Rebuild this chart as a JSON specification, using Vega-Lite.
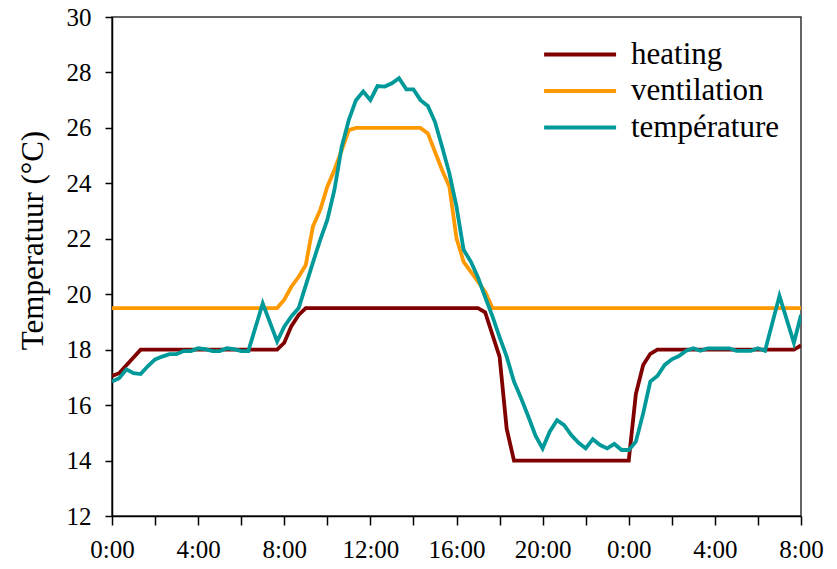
{
  "$schema": "https://vega.github.io/schema/vega-lite/v6.json",
  "width": 689,
  "height": 499,
  "autosize": {"type": "none"},
  "padding": {"left": 112, "top": 17, "right": 36, "bottom": 53},
  "background": "white",
  "config": {
    "font": "Liberation Serif",
    "view": {"stroke": "#333333", "strokeWidth": 1.5},
    "axis": {
      "grid": false,
      "domainColor": "#000000",
      "domainWidth": 1.5,
      "tickColor": "#000000",
      "tickWidth": 1.5,
      "labelColor": "#000000",
      "titleColor": "#000000",
      "labelFont": "Liberation Serif",
      "titleFont": "Liberation Serif",
      "labelFontSize": 25,
      "titleFontWeight": "normal"
    },
    "legend": {
      "labelFont": "Liberation Serif",
      "labelFontSize": 31,
      "labelColor": "#000000"
    }
  },
  "datasets": {
    "heating": [
      {"t": 0, "v": 17.05}, {"t": 0.33, "v": 17.15}, {"t": 1.33, "v": 18.0},
      {"t": 7.67, "v": 18.0}, {"t": 8.0, "v": 18.25}, {"t": 8.33, "v": 18.85},
      {"t": 8.67, "v": 19.25}, {"t": 9.0, "v": 19.5}, {"t": 17.0, "v": 19.5},
      {"t": 17.33, "v": 19.35}, {"t": 18.0, "v": 17.75}, {"t": 18.33, "v": 15.15},
      {"t": 18.67, "v": 14.0}, {"t": 24.0, "v": 14.0}, {"t": 24.33, "v": 16.4},
      {"t": 24.67, "v": 17.45}, {"t": 25.0, "v": 17.85}, {"t": 25.33, "v": 18.0},
      {"t": 31.67, "v": 18.0}, {"t": 32.0, "v": 18.15}
    ],
    "ventilation": [
      {"t": 0, "v": 19.5}, {"t": 7.67, "v": 19.5}, {"t": 8.0, "v": 19.8},
      {"t": 8.33, "v": 20.27}, {"t": 8.67, "v": 20.63}, {"t": 9.0, "v": 21.05},
      {"t": 9.33, "v": 22.44}, {"t": 9.67, "v": 23.04}, {"t": 10.0, "v": 23.88},
      {"t": 10.33, "v": 24.48}, {"t": 10.67, "v": 25.2}, {"t": 11.0, "v": 25.92},
      {"t": 11.33, "v": 26.0}, {"t": 14.33, "v": 26.0}, {"t": 14.67, "v": 25.8},
      {"t": 15.0, "v": 25.14}, {"t": 15.33, "v": 24.48}, {"t": 15.67, "v": 23.88},
      {"t": 16.0, "v": 22.02}, {"t": 16.33, "v": 21.17}, {"t": 16.67, "v": 20.81},
      {"t": 17.0, "v": 20.45}, {"t": 17.33, "v": 20.09}, {"t": 17.67, "v": 19.5},
      {"t": 32.0, "v": 19.5}
    ],
    "temperature": [
      {"t": 0, "v": 16.85}, {"t": 0.33, "v": 16.97}, {"t": 0.67, "v": 17.29},
      {"t": 1.0, "v": 17.15}, {"t": 1.33, "v": 17.12}, {"t": 1.67, "v": 17.41},
      {"t": 2.0, "v": 17.65}, {"t": 2.33, "v": 17.75}, {"t": 2.67, "v": 17.84},
      {"t": 3.0, "v": 17.84}, {"t": 3.33, "v": 17.95}, {"t": 3.67, "v": 17.95},
      {"t": 4.0, "v": 18.05}, {"t": 4.33, "v": 18.02}, {"t": 4.67, "v": 17.95},
      {"t": 5.0, "v": 17.95}, {"t": 5.33, "v": 18.05}, {"t": 5.67, "v": 18.02},
      {"t": 6.0, "v": 17.95}, {"t": 6.33, "v": 17.95}, {"t": 7.0, "v": 19.67},
      {"t": 7.67, "v": 18.3}, {"t": 8.0, "v": 18.83}, {"t": 8.33, "v": 19.2},
      {"t": 8.67, "v": 19.5}, {"t": 9.0, "v": 20.32}, {"t": 9.33, "v": 21.14},
      {"t": 9.67, "v": 21.96}, {"t": 10.0, "v": 22.68}, {"t": 10.33, "v": 23.76},
      {"t": 10.67, "v": 25.32}, {"t": 11.0, "v": 26.29}, {"t": 11.33, "v": 27.0},
      {"t": 11.67, "v": 27.31}, {"t": 12.0, "v": 27.0}, {"t": 12.33, "v": 27.51},
      {"t": 12.67, "v": 27.49}, {"t": 13.0, "v": 27.61}, {"t": 13.33, "v": 27.79},
      {"t": 13.67, "v": 27.39}, {"t": 14.0, "v": 27.39}, {"t": 14.33, "v": 27.0},
      {"t": 14.67, "v": 26.79}, {"t": 15.0, "v": 26.22}, {"t": 15.33, "v": 25.32},
      {"t": 15.67, "v": 24.36}, {"t": 16.0, "v": 23.16}, {"t": 16.33, "v": 21.6},
      {"t": 16.67, "v": 21.17}, {"t": 17.0, "v": 20.6}, {"t": 17.33, "v": 19.9},
      {"t": 17.67, "v": 19.2}, {"t": 18.0, "v": 18.45}, {"t": 18.33, "v": 17.75},
      {"t": 18.67, "v": 16.85}, {"t": 19.0, "v": 16.25}, {"t": 19.33, "v": 15.6},
      {"t": 19.67, "v": 14.9}, {"t": 20.0, "v": 14.44}, {"t": 20.33, "v": 15.04},
      {"t": 20.67, "v": 15.46}, {"t": 21.0, "v": 15.28}, {"t": 21.33, "v": 14.92},
      {"t": 21.67, "v": 14.64}, {"t": 22.0, "v": 14.44}, {"t": 22.33, "v": 14.77},
      {"t": 22.67, "v": 14.56}, {"t": 23.0, "v": 14.44}, {"t": 23.33, "v": 14.6},
      {"t": 23.67, "v": 14.38}, {"t": 24.0, "v": 14.38}, {"t": 24.33, "v": 14.68},
      {"t": 24.67, "v": 15.7}, {"t": 25.0, "v": 16.85}, {"t": 25.33, "v": 17.05},
      {"t": 25.67, "v": 17.45}, {"t": 26.0, "v": 17.65}, {"t": 26.33, "v": 17.77},
      {"t": 26.67, "v": 17.96}, {"t": 27.0, "v": 18.05}, {"t": 27.33, "v": 17.96},
      {"t": 27.67, "v": 18.05}, {"t": 28.0, "v": 18.05}, {"t": 28.67, "v": 18.05},
      {"t": 29.0, "v": 17.96}, {"t": 29.67, "v": 17.96}, {"t": 30.0, "v": 18.05},
      {"t": 30.33, "v": 17.96}, {"t": 31.0, "v": 19.94}, {"t": 31.67, "v": 18.25},
      {"t": 32.0, "v": 19.25}
    ]
  },
  "layer": [
    {
      "data": {"name": "heating"},
      "transform": [{"calculate": "'heating'", "as": "serie"}],
      "mark": {"type": "line", "strokeWidth": 3.8, "clip": true},
      "encoding": {
        "x": {"field": "t", "type": "quantitative"},
        "y": {"field": "v", "type": "quantitative"},
        "color": {"field": "serie", "type": "nominal"}
      }
    },
    {
      "data": {"name": "ventilation"},
      "transform": [{"calculate": "'ventilation'", "as": "serie"}],
      "mark": {"type": "line", "strokeWidth": 3.8, "clip": true},
      "encoding": {
        "x": {"field": "t", "type": "quantitative"},
        "y": {"field": "v", "type": "quantitative"},
        "color": {"field": "serie", "type": "nominal"}
      }
    },
    {
      "data": {"name": "temperature"},
      "transform": [{"calculate": "'température'", "as": "serie"}],
      "mark": {"type": "line", "strokeWidth": 3.8, "clip": true},
      "encoding": {
        "x": {
          "field": "t",
          "type": "quantitative",
          "scale": {"domain": [0, 32], "nice": false, "zero": false},
          "axis": {
            "title": null,
            "values": [0, 2, 4, 6, 8, 10, 12, 14, 16, 18, 20, 22, 24, 26, 28, 30, 32],
            "labelExpr": "datum.value % 4 === 0 ? (datum.value % 24) + ':00' : ''",
            "tickSize": 9,
            "labelPadding": 12,
            "labelFlush": false,
            "labelOverlap": false,
            "encode": {
              "ticks": {"update": {"y2": {"signal": "datum.value % 4 === 0 ? 9 : 5"}}}
            }
          }
        },
        "y": {
          "field": "v",
          "type": "quantitative",
          "scale": {"domain": [12, 30], "nice": false, "zero": false},
          "axis": {
            "title": "Temperatuur (°C)",
            "titleFontSize": 31,
            "titlePadding": 17,
            "titleY": 223,
            "values": [12, 14, 16, 18, 20, 22, 24, 26, 28, 30],
            "tickSize": 7,
            "labelPadding": 14,
            "labelFlush": false,
            "labelOverlap": false
          }
        },
        "color": {
          "field": "serie",
          "type": "nominal",
          "scale": {
            "domain": ["heating", "ventilation", "température"],
            "range": ["#800000", "#FF9900", "#009999"]
          },
          "legend": {
            "title": null,
            "orient": "none",
            "legendX": 430,
            "legendY": 21,
            "padding": 0,
            "symbolType": "M-1,0H4",
            "symbolSize": 829,
            "symbolStrokeWidth": 4,
            "labelFont": "Liberation Serif",
            "labelFontSize": 31,
            "labelColor": "#000000",
            "labelOffset": 56,
            "rowPadding": 4.5
          }
        }
      }
    }
  ]
}
